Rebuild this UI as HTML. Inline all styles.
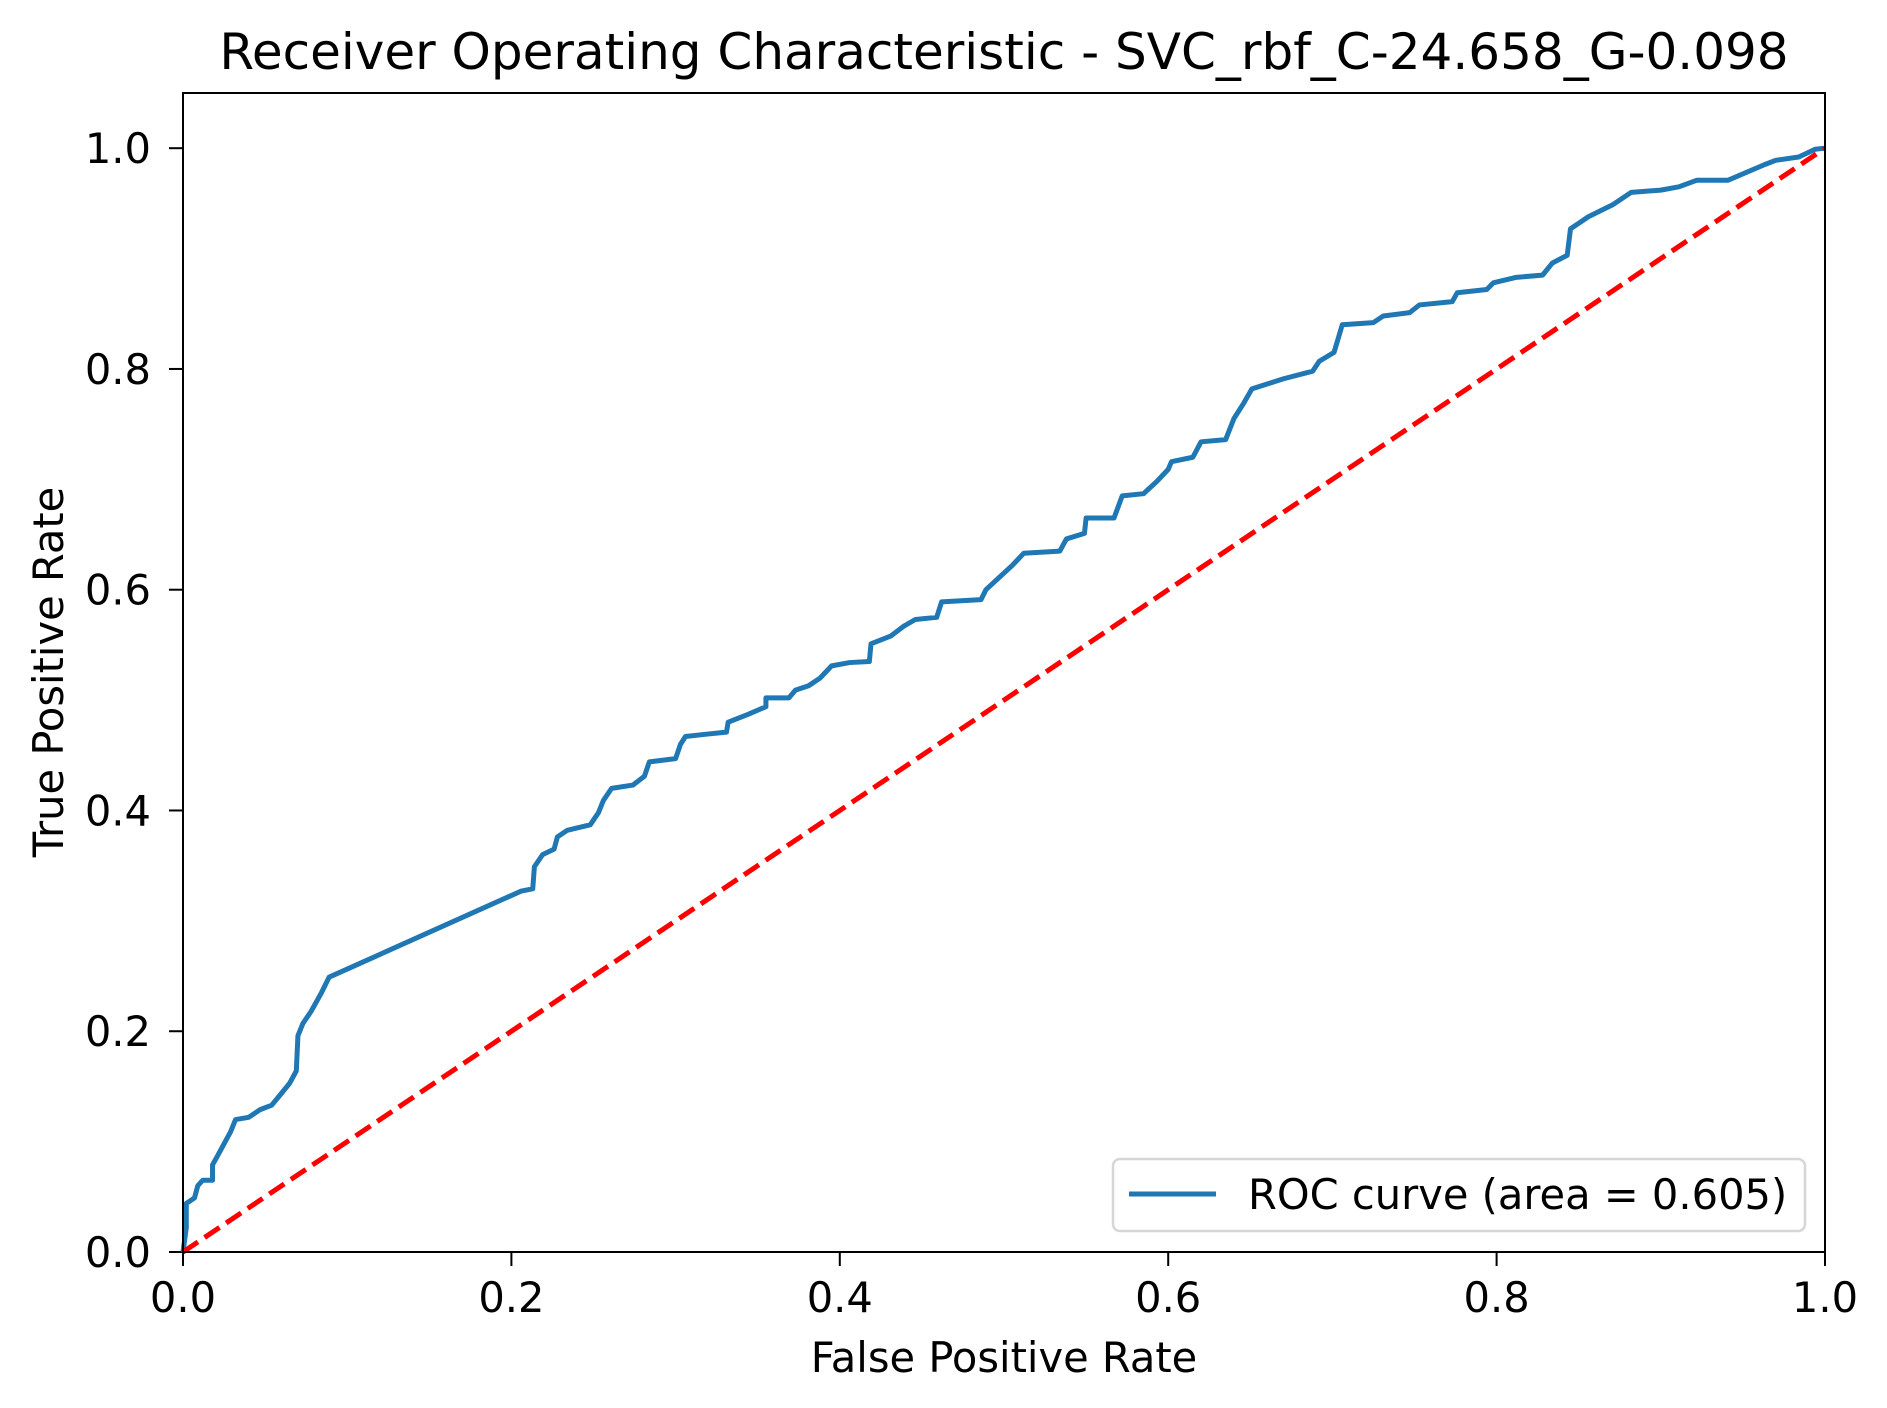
<!DOCTYPE html>
<html><head><meta charset="utf-8"><style>
html,body{margin:0;padding:0;background:#fff;}
svg{display:block;font-family:"DejaVu Sans","Liberation Sans",sans-serif;}
</style></head><body>
<svg id="chart" width="1887" height="1408" viewBox="0 0 1887 1408">
<rect width="1887" height="1408" fill="#fff"/>
<text x="1004" y="69" font-size="50" text-anchor="middle">Receiver Operating Characteristic - SVC_rbf_C-24.658_G-0.098</text>
<g id="ticks"></g>
<g id="marks"></g>
<rect x="183" y="93" width="1642" height="1159" fill="none" stroke="#000" stroke-width="2"/>
<text x="1004" y="1372" font-size="41.6" text-anchor="middle">False Positive Rate</text>
<text x="0" y="0" font-size="41.6" text-anchor="middle" transform="translate(63,672) rotate(-90)">True Positive Rate</text>
<g>
<rect x="1113" y="1159" width="692" height="72" rx="7" fill="#fff" stroke="#d6d6d6" stroke-width="2.5"/>
<line x1="1129" y1="1194" x2="1216" y2="1194" stroke="#1f77b4" stroke-width="5"/>
<text x="1248" y="1209" font-size="41.6">ROC curve (area = 0.605)</text>
</g>
</svg>
<script>
const fprValues=[0,0.002,0.002,0.007,0.009,0.012,0.018,0.018,0.021,0.025,0.029,0.032,0.040,0.047,0.054,0.059,0.065,0.069,0.070,0.073,0.078,0.084,0.089,0.092,0.206,0.213,0.214,0.219,0.226,0.228,0.234,0.248,0.253,0.256,0.261,0.274,0.281,0.284,0.300,0.303,0.306,0.318,0.331,0.332,0.344,0.355,0.355,0.369,0.373,0.381,0.388,0.395,0.406,0.418,0.419,0.431,0.439,0.446,0.459,0.462,0.486,0.489,0.497,0.505,0.512,0.534,0.538,0.549,0.550,0.567,0.572,0.585,0.593,0.600,0.602,0.615,0.620,0.635,0.640,0.646,0.651,0.670,0.688,0.692,0.701,0.706,0.725,0.731,0.747,0.753,0.773,0.776,0.794,0.798,0.812,0.828,0.834,0.843,0.845,0.856,0.871,0.882,0.900,0.911,0.922,0.941,0.963,0.970,0.984,0.994,1];
const tprValues=[0,0.022,0.044,0.049,0.060,0.065,0.065,0.079,0.087,0.098,0.109,0.120,0.122,0.129,0.133,0.142,0.153,0.164,0.196,0.207,0.218,0.234,0.249,0.251,0.327,0.329,0.349,0.360,0.365,0.376,0.382,0.387,0.398,0.409,0.420,0.423,0.431,0.444,0.447,0.460,0.467,0.469,0.471,0.480,0.487,0.494,0.502,0.502,0.509,0.513,0.520,0.531,0.534,0.535,0.551,0.558,0.567,0.573,0.575,0.589,0.591,0.600,0.611,0.622,0.633,0.635,0.646,0.651,0.665,0.665,0.685,0.687,0.698,0.709,0.716,0.720,0.734,0.736,0.755,0.769,0.782,0.791,0.798,0.807,0.815,0.840,0.842,0.848,0.851,0.858,0.861,0.869,0.872,0.878,0.883,0.885,0.896,0.903,0.927,0.938,0.949,0.960,0.962,0.965,0.971,0.971,0.985,0.989,0.992,0.999,1];
const chanceX=[0,1];
const chanceY=[0,1];
const xTicks=[0,0.2,0.4,0.6,0.8,1.0];
const xTickLabels=["0.0","0.2","0.4","0.6","0.8","1.0"];
const yTicks=[0,0.2,0.4,0.6,0.8,1.0];
const yTickLabels=["0.0","0.2","0.4","0.6","0.8","1.0"];

const NS="http://www.w3.org/2000/svg";
const X0=183,X1=1825,Y0=1252,Y1=93;
function sx(v){return X0+(X1-X0)*v;}
function sy(v){return Y0-(Y0-Y1)*v/1.05;}
const ticks=document.getElementById('ticks');
const marks=document.getElementById('marks');
xTicks.forEach((t,i)=>{
  const l=document.createElementNS(NS,'line');
  l.setAttribute('x1',sx(t));l.setAttribute('x2',sx(t));l.setAttribute('y1',Y0);l.setAttribute('y2',Y0+14);
  l.setAttribute('stroke','#000');l.setAttribute('stroke-width','2');
  
  
  ticks.appendChild(l);
  const tx=document.createElementNS(NS,'text');
  tx.setAttribute('x',sx(t));tx.setAttribute('y',1312);tx.setAttribute('font-size','41.6');tx.setAttribute('text-anchor','middle');
  tx.textContent=xTickLabels[i];
  
  
  ticks.appendChild(tx);
});
yTicks.forEach((t,i)=>{
  const l=document.createElementNS(NS,'line');
  l.setAttribute('x1',X0-14);l.setAttribute('x2',X0);l.setAttribute('y1',sy(t));l.setAttribute('y2',sy(t));
  l.setAttribute('stroke','#000');l.setAttribute('stroke-width','2');
  
  
  ticks.appendChild(l);
  const tx=document.createElementNS(NS,'text');
  tx.setAttribute('x',151);tx.setAttribute('y',sy(t)+15);tx.setAttribute('font-size','41.6');tx.setAttribute('text-anchor','end');
  tx.textContent=yTickLabels[i];
  
  
  ticks.appendChild(tx);
});
const roc=document.createElementNS(NS,'polyline');
roc.setAttribute('points',fprValues.map((v,i)=>sx(v)+','+sy(tprValues[i])).join(' '));
roc.setAttribute('fill','none');roc.setAttribute('stroke','#1f77b4');roc.setAttribute('stroke-width','5');
roc.setAttribute('stroke-linejoin','round');


marks.appendChild(roc);
const ch=document.createElementNS(NS,'line');
ch.setAttribute('x1',sx(chanceX[0]));ch.setAttribute('y1',sy(chanceY[0]));
ch.setAttribute('x2',sx(chanceX[1]));ch.setAttribute('y2',sy(chanceY[1]));
ch.setAttribute('stroke','#ff0000');ch.setAttribute('stroke-width','5');ch.setAttribute('stroke-dasharray','18,8');


marks.appendChild(ch);
</script>
</body></html>
